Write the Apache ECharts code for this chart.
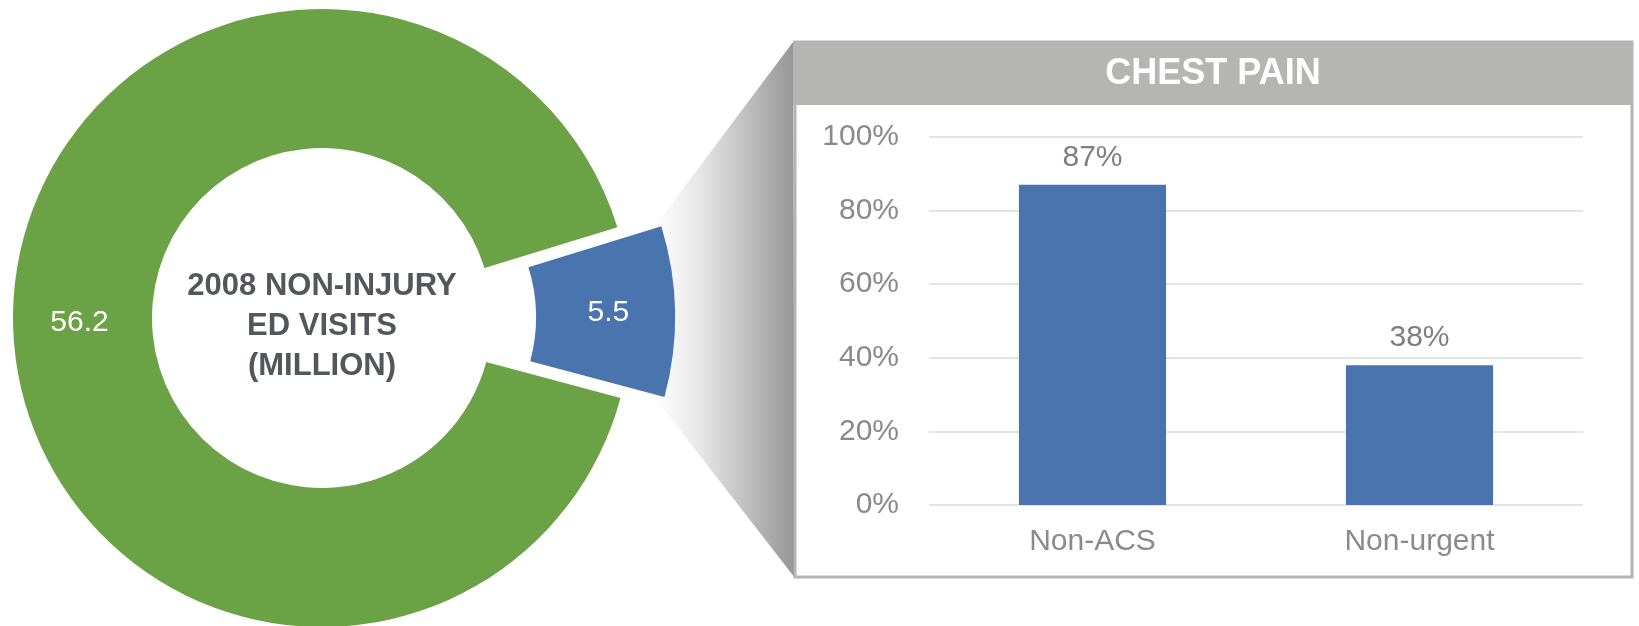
<!DOCTYPE html>
<html>
<head>
<meta charset="utf-8">
<script src="https://cdn.jsdelivr.net/npm/echarts@6/dist/echarts.min.js"></script>
<style>
  html, body { margin: 0; padding: 0; background: #ffffff; }
  #chart { width: 1639px; height: 626px; }
</style>
</head>
<body>
<div id="chart"></div>
<script>
// ---- data ----
const donutNames = ['Chest pain', 'Other non-injury'];
const donutValues = [5.5, 56.2];
const donutColors = ['#4a74ae', '#6aa245'];
const centerLines = ['2008 NON-INJURY', 'ED VISITS', '(MILLION)'];
const panelTitle = 'CHEST PAIN';
const barCategories = ['Non-ACS', 'Non-urgent'];
const barValues = [87, 38];
const yAxisMin = 0, yAxisMax = 100, yAxisStep = 20;

const FONT = '"Liberation Sans", Arial, Helvetica, sans-serif';
const chart = echarts.init(document.getElementById('chart'), null, { renderer: 'canvas' });

const option = {
  animation: false,
  backgroundColor: '#ffffff',
  textStyle: { fontFamily: FONT },
  graphic: [
    // funnel shadow connecting slice to panel
    {
      type: 'polygon', z: -10, silent: true,
      shape: { points: [[655, 226], [793, 42], [795, 578], [655, 398]] },
      style: {
        fill: new echarts.graphic.LinearGradient(0, 0, 1, 0, [
          { offset: 0, color: '#ffffff' },
          { offset: 0.35, color: '#e4e4e4' },
          { offset: 1, color: '#959595' }
        ])
      }
    },
    // panel box
    {
      type: 'rect', z: -9, silent: true,
      shape: { x: 795, y: 42, width: 837, height: 535 },
      style: { fill: '#ffffff', stroke: '#b4b4b4', lineWidth: 3 }
    },
    // header
    {
      type: 'rect', z: -8, silent: true,
      shape: { x: 793, y: 41, width: 840, height: 64 },
      style: { fill: '#b5b6b3' }
    },
    {
      type: 'text', z: 10, silent: true,
      x: 1213, y: 74,
      style: {
        text: panelTitle, fill: '#ffffff', font: 'bold 36px ' + FONT,
        textAlign: 'center', textVerticalAlign: 'middle'
      }
    },
    // donut center text
    {
      type: 'text', z: 10, silent: true,
      x: 322, y: 326,
      style: {
        text: centerLines.join('\n'), fill: '#53575c', font: 'bold 31px ' + FONT,
        lineHeight: 40, textAlign: 'center', textVerticalAlign: 'middle'
      }
    }
  ],
  grid: { left: 929, right: 56, top: 137, bottom: 121, containLabel: false },
  xAxis: {
    type: 'category',
    data: barCategories,
    axisLine: { show: false },
    axisTick: { show: false },
    axisLabel: { color: '#8a8a8a', fontSize: 30, fontFamily: FONT, margin: 22 }
  },
  yAxis: {
    type: 'value',
    min: yAxisMin, max: yAxisMax, interval: yAxisStep,
    axisLine: { show: false },
    axisTick: { show: false },
    axisLabel: { color: '#8a8a8a', fontSize: 30, fontFamily: FONT, margin: 30, formatter: '{value}%' },
    splitLine: { lineStyle: { color: '#e4e4e4', width: 2 } }
  },
  series: [
    {
      type: 'pie',
      center: [322, 318],
      radius: [170, 309],
      startAngle: 17.1,
      clockwise: true,
      selectedMode: 'single',
      selectedOffset: 44,
      avoidLabelOverlap: false,
      emphasis: { disabled: true, scale: false },
      label: {
        show: true, position: 'inside', formatter: '{c}',
        color: '#ffffff', fontSize: 30, fontFamily: FONT
      },
      labelLine: { show: false },
      itemStyle: { borderWidth: 0 },
      data: donutValues.map((v, i) => ({
        name: donutNames[i], value: v, selected: i === 0,
        itemStyle: { color: donutColors[i] },
        select: { itemStyle: { color: donutColors[i] } }
      }))
    },
    {
      type: 'bar',
      data: barValues,
      barWidth: '45%',
      itemStyle: { color: '#4a74ae' },
      emphasis: { disabled: true },
      label: {
        show: true, position: 'top', distance: 12, formatter: '{c}%',
        color: '#7f7f7f', fontSize: 30, fontFamily: FONT
      }
    }
  ]
};
chart.setOption(option);
</script>
</body>
</html>
